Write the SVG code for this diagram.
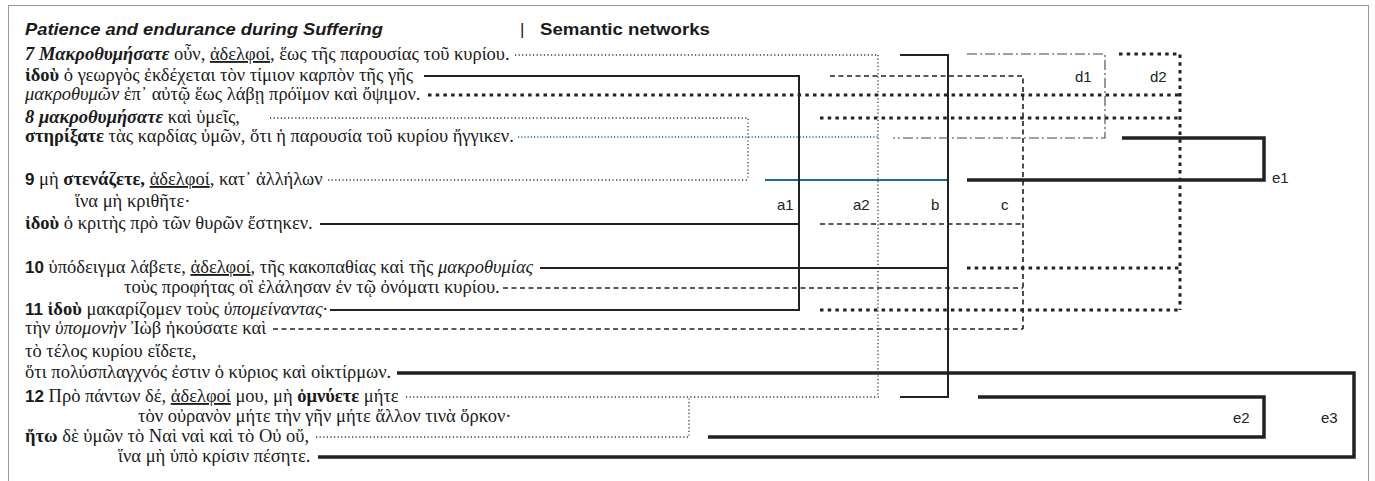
<svg xmlns="http://www.w3.org/2000/svg" width="1375" height="481" viewBox="0 0 1375 481">
<style>
.g{font-family:"Liberation Serif","DejaVu Serif",serif;font-size:18.5px;fill:#1a1a1a}
.b{font-weight:bold}
.i{font-style:italic}
.bi{font-weight:bold;font-style:italic}
.sn{font-family:"Liberation Sans",Arial,sans-serif;font-weight:bold;font-size:17px}
.u{text-decoration:underline}
.hd{font-family:"Liberation Sans",Arial,sans-serif;font-size:17px;fill:#1a1a1a}
.lbl{font-family:"Liberation Sans",Arial,sans-serif;font-size:15px;fill:#222}
.fd{stroke:#333;stroke-width:1.3;stroke-dasharray:1.2 2.4;fill:none}
.bd{stroke:#1f6b8e;stroke-width:1.3;stroke-dasharray:1.2 2;fill:none}
.bl{stroke:#1f6b8e;stroke-width:2.2;fill:none}
.td{stroke:#222;stroke-width:3;stroke-dasharray:3.5 4.2;fill:none}
.da{stroke:#222;stroke-width:1.6;stroke-dasharray:5 3.5;fill:none}
.dd{stroke:#444;stroke-width:1.1;stroke-dasharray:10 3 2 3;fill:none}
.so{stroke:#222;stroke-width:2;fill:none}
.th{stroke:#222;stroke-width:3.5;fill:none}
</style>
<rect x="8.5" y="5.5" width="1360" height="490" fill="none" stroke="#999" stroke-width="1"/>
<g id="title">
<text class="hd" x="25" y="35" font-weight="bold" font-style="italic" textLength="358" lengthAdjust="spacingAndGlyphs">Patience and endurance during Suffering</text>
<text class="hd" x="520" y="35">|</text>
<text class="hd" x="540" y="35" font-weight="bold" textLength="170" lengthAdjust="spacingAndGlyphs">Semantic networks</text>
</g>
<g id="connectors">
<path class="fd" d="M515,55 H878 M878,55 V397 M406,397 H879 M270,118 H748 V180 M328,180 H748 M316,437 H689 V397"/>
<path class="bd" d="M518,137 H878"/>
<path class="bl" d="M765,180 H948"/>
<path class="so" d="M424,76 H799 V310 H330 M320,224 H799"/>
<path class="so" d="M900,55 H948 V397 H900 M540,268 H948"/>
<path class="td" d="M1119,54 H1180 V310 M428,95 H1180 M820,118 H1180 M967,268 H1180 M820,310 H1180"/>
<path class="da" d="M830,76 H1023 V329 M820,224 H1023 M503,288 H1023 M273,329 H1023"/>
<path class="dd" d="M967,54 H1105 V138 H893"/>
<path class="th" d="M1122,138 H1264 V180 H967"/>
<path class="th" d="M978,397 H1264 V437 H708"/>
<path class="th" d="M397,373 H1354 V457 H318"/>
</g>
<g id="labels">
<text class="lbl" id="a1" x="777" y="210">a1</text>
<text class="lbl" id="a2" x="853" y="210">a2</text>
<text class="lbl" id="lb" x="931" y="210">b</text>
<text class="lbl" id="lc" x="1001" y="210">c</text>
<text class="lbl" id="d1" x="1075" y="82">d1</text>
<text class="lbl" id="d2" x="1150" y="82">d2</text>
<text class="lbl" id="e1" x="1272" y="183">e1</text>
<text class="lbl" id="e2" x="1233" y="423">e2</text>
<text class="lbl" id="e3" x="1321" y="423">e3</text>
</g>
<g id="v7"><text class="g" x="25" y="60"><tspan class="bi">7 Μακροθυμήσατε</tspan> οὖν, <tspan class="u">ἀδελφοί</tspan>, ἕως τῆς παρουσίας τοῦ κυρίου.</text></g>
<g id="v7b"><text class="g" x="25" y="81"><tspan class="b">ἰδοὺ</tspan> ὁ γεωργὸς ἐκδέχεται τὸν τίμιον καρπὸν τῆς γῆς</text></g>
<g id="v7c"><text class="g" x="25" y="100"><tspan class="i">μακροθυμῶν</tspan> ἐπ᾽ αὐτῷ ἕως λάβῃ πρόϊμον καὶ ὄψιμον.</text></g>
<g id="v8"><text class="g" x="25" y="123"><tspan class="bi">8 μακροθυμήσατε</tspan> καὶ ὑμεῖς,</text></g>
<g id="v8b"><text class="g" x="25" y="142"><tspan class="b">στηρίξατε</tspan> τὰς καρδίας ὑμῶν, ὅτι ἡ παρουσία τοῦ κυρίου ἤγγικεν.</text></g>
<g id="v9"><text class="g" x="25" y="185"><tspan class="sn">9</tspan> μὴ <tspan class="b">στενάζετε,</tspan> <tspan class="u">ἀδελφοί</tspan>, κατ᾽ ἀλλήλων</text></g>
<g id="v9b"><text class="g" x="75" y="207">ἵνα μὴ κριθῆτε·</text></g>
<g id="v9c"><text class="g" x="25" y="229"><tspan class="b">ἰδοὺ</tspan> ὁ κριτὴς πρὸ τῶν θυρῶν ἔστηκεν.</text></g>
<g id="v10"><text class="g" x="25" y="273"><tspan class="sn">10</tspan> ὑπόδειγμα λάβετε, <tspan class="u">ἀδελφοί</tspan>, τῆς κακοπαθίας καὶ τῆς <tspan class="i">μακροθυμίας</tspan></text></g>
<g id="v10b"><text class="g" x="124" y="293">τοὺς προφήτας οἳ ἐλάλησαν ἐν τῷ ὀνόματι κυρίου.</text></g>
<g id="v11"><text class="g" x="25" y="315"><tspan class="sn">11</tspan> <tspan class="b">ἰδοὺ</tspan> μακαρίζομεν τοὺς <tspan class="i">ὑπομείναντας·</tspan></text></g>
<g id="v11b"><text class="g" x="25" y="334">τὴν <tspan class="i">ὑπομονὴν</tspan> Ἰὼβ ἠκούσατε καὶ</text></g>
<g id="v11c"><text class="g" x="25" y="357">τὸ τέλος κυρίου εἴδετε,</text></g>
<g id="v11d"><text class="g" x="25" y="378">ὅτι πολύσπλαγχνός ἐστιν ὁ κύριος καὶ οἰκτίρμων.</text></g>
<g id="v12"><text class="g" x="25" y="402"><tspan class="sn">12</tspan> Πρὸ πάντων δέ, <tspan class="u">ἀδελφοί</tspan> μου, μὴ <tspan class="b">ὀμνύετε</tspan> μήτε</text></g>
<g id="v12b"><text class="g" x="138" y="422">τὸν οὐρανὸν μήτε τὴν γῆν μήτε ἄλλον τινὰ ὅρκον·</text></g>
<g id="v12c"><text class="g" x="25" y="442"><tspan class="b">ἤτω</tspan> δὲ ὑμῶν τὸ Ναὶ ναὶ καὶ τὸ Οὐ οὔ,</text></g>
<g id="v12d"><text class="g" x="118" y="462">ἵνα μὴ ὑπὸ κρίσιν πέσητε.</text></g>
</svg>
